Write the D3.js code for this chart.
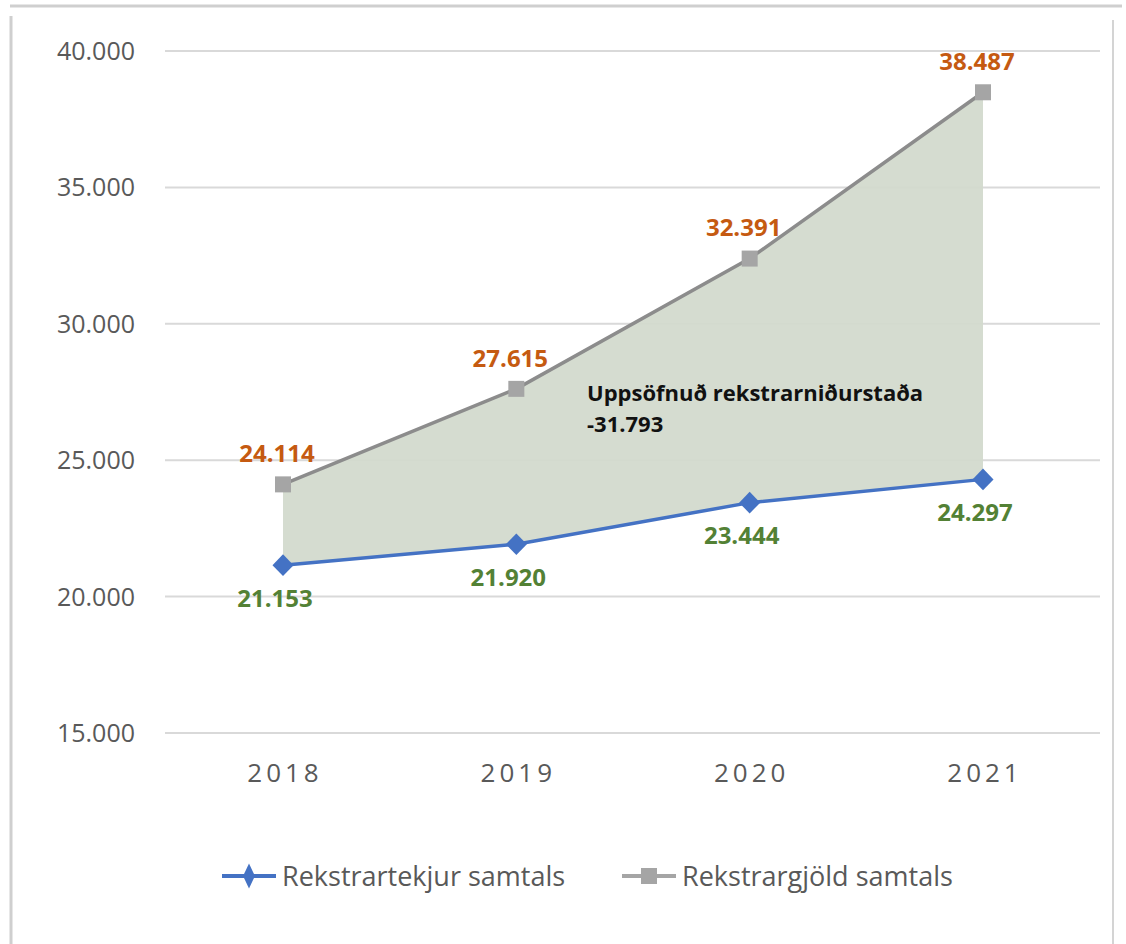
<!DOCTYPE html>
<html><head><meta charset="utf-8">
<script src="https://cdn.jsdelivr.net/npm/d3@7"></script>
<style>body{margin:0;background:#fff}svg{display:block}</style>
</head><body>
<script>
const years = ["2018","2019","2020","2021"];
const revenue = [21153, 21920, 23444, 24297];
const expenses = [24114, 27615, 32391, 38487];
const yTicks = [15000, 20000, 25000, 30000, 35000, 40000];
const seriesNames = ["Rekstrartekjur samtals", "Rekstrargjöld samtals"];
const annotation = ["Uppsöfnuð rekstrarniðurstaða", "-31.793"];

const W = 1126, H = 944;
const svg = d3.select("body").append("svg").attr("width", W).attr("height", H);
const fmt = v => d3.format(",")(v).replace(/,/g, ".");

// frame
svg.append("line").attr("x1",10).attr("x2",1122).attr("y1",6).attr("y2",6).attr("stroke","#cfcfcf").attr("stroke-width",3);
svg.append("line").attr("x1",11).attr("x2",11).attr("y1",16).attr("y2",H).attr("stroke","#cfcfcf").attr("stroke-width",3);
svg.append("line").attr("x1",1113).attr("x2",1113).attr("y1",20).attr("y2",H).attr("stroke","#d4d4d4").attr("stroke-width",2);

const x = d3.scalePoint().domain(years).range([283, 983]);
const y = d3.scaleLinear().domain([15000, 40000]).range([733, 51]);

// grid
svg.append("g").selectAll("line").data(yTicks).join("line")
  .attr("x1",165).attr("x2",1100).attr("y1",d=>y(d)).attr("y2",d=>y(d))
  .attr("stroke","#d9d9d9").attr("stroke-width",2);

// y labels
svg.append("g").selectAll("text").data(yTicks).join("text")
  .attr("x",135).attr("y",d=>y(d)).attr("dy","0.36em").attr("text-anchor","end")
  .attr("font-family","Open Sans, sans-serif").attr("font-size",25).attr("fill","#595959")
  .text(fmt);

// x labels
svg.append("g").selectAll("text").data(years).join("text")
  .attr("x",d=>x(d)+2).attr("y",773).attr("dy","0.36em").attr("text-anchor","middle")
  .attr("font-family","Open Sans, sans-serif").attr("font-size",26).attr("letter-spacing",4).attr("fill","#595959")
  .text(d=>d);

// area between
const area = d3.area().x((d,i)=>x(years[i])).y0((d,i)=>y(revenue[i])).y1(d=>y(d));
svg.append("path").datum(expenses).attr("d",area).attr("fill","#d3dacd").attr("opacity",0.95);

// lines
const line = d3.line().x((d,i)=>x(years[i])).y(d=>y(d));
svg.append("path").datum(expenses).attr("d",line).attr("fill","none").attr("stroke","#8c8c8c").attr("stroke-width",3.5);
svg.append("path").datum(revenue).attr("d",line).attr("fill","none").attr("stroke","#4472c4").attr("stroke-width",3.5);

// markers
svg.append("g").selectAll("rect").data(expenses).join("rect")
  .attr("x",(d,i)=>x(years[i])-8).attr("y",d=>y(d)-8).attr("width",16).attr("height",16).attr("fill","#a5a5a5");
const diamond = d3.symbol().type(d3.symbolDiamond).size(150);
svg.append("g").selectAll("path").data(revenue).join("path")
  .attr("d",diamond).attr("transform",(d,i)=>`translate(${x(years[i])},${y(d)}) scale(1.6,0.95)`).attr("fill","#4472c4");

// data labels
svg.append("g").selectAll("text").data(expenses).join("text")
  .attr("x",(d,i)=>x(years[i])-6).attr("y",d=>y(d)-31).attr("dy","0.36em").attr("text-anchor","middle")
  .attr("font-family","Open Sans, sans-serif").attr("font-weight","bold").attr("font-size",24).attr("fill","#c55a11")
  .text(fmt);
svg.append("g").selectAll("text").data(revenue).join("text")
  .attr("x",(d,i)=>x(years[i])-8).attr("y",d=>y(d)+33).attr("dy","0.36em").attr("text-anchor","middle")
  .attr("font-family","Open Sans, sans-serif").attr("font-weight","bold").attr("font-size",24).attr("fill","#538135")
  .text(fmt);

// annotation
svg.append("g").selectAll("text").data(annotation).join("text")
  .attr("x",587).attr("y",(d,i)=>393+i*31).attr("dy","0.36em")
  .attr("font-family","Open Sans, sans-serif").attr("font-weight","bold").attr("font-size",22).attr("fill","#111")
  .text(d=>d);

// legend
const leg = [{x:222, color:"#4472c4", type:"d"},{x:622, color:"#a5a5a5", type:"s"}];
leg.forEach((l,i)=>{
  const g = svg.append("g");
  g.append("line").attr("x1",l.x).attr("x2",l.x+54).attr("y1",876).attr("y2",876).attr("stroke",i?"#a5a5a5":"#4472c4").attr("stroke-width",4);
  if(l.type==="d") g.append("path").attr("d",diamond).attr("transform",`translate(${l.x+27},876) scale(0.9,1.1)`).attr("fill",l.color);
  else g.append("rect").attr("x",l.x+19).attr("y",868).attr("width",16).attr("height",16).attr("fill",l.color);
  g.append("text").attr("x",l.x+60).attr("y",876).attr("dy","0.36em")
   .attr("font-family","Open Sans, sans-serif").attr("font-size",27).attr("fill","#595959")
   .text(seriesNames[i]);
});
</script>
</body></html>
